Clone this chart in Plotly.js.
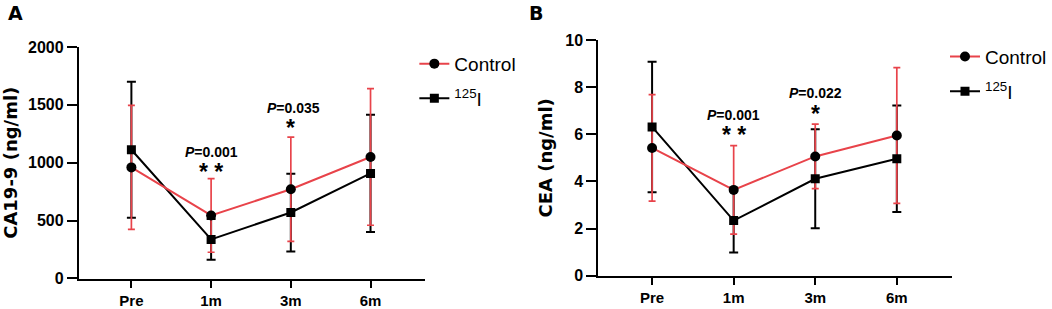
<!DOCTYPE html>
<html>
<head>
<meta charset="utf-8">
<script src="https://cdn.plot.ly/plotly-3.0.1.min.js"></script>
<style>html,body{margin:0;padding:0;background:#fff;}#chart{width:1052px;height:309px;}</style>
</head>
<body>
<div id="chart"></div>
<script>
// ---- data ----
const categories = ['Pre', '1m', '3m', '6m'];
const ca199Control = [960, 545, 771, 1050];
const ca199ControlSD = [535, 318, 451, 590];
const ca199I125 = [1112, 338, 570, 908];
const ca199I125SD = [588, 175, 336, 507];
const ceaControl = [5.42, 3.64, 5.06, 5.95];
const ceaControlSD = [2.26, 1.88, 1.37, 2.88];
const ceaI125 = [6.31, 2.34, 4.11, 4.96];
const ceaI125SD = [2.77, 1.36, 2.10, 2.26];
const seriesNames = ['Control', '<sup>125</sup>I'];
const pA = ['<i>P</i>=0.001', '<i>P</i>=0.035'];
const starsA = ['* *', '*'];
const pB = ['<i>P</i>=0.001', '<i>P</i>=0.022'];
const starsB = ['* *', '*'];
const yTicksA = [0, 500, 1000, 1500, 2000];
const yTicksB = [0, 2, 4, 6, 8, 10];

const RED = '#e8434a';
const BLACK = '#000000';

function errTrace(y, sd, color, thick, w, xa, ya) {
  return {
    type: 'scatter', mode: 'markers', x: categories, y: y,
    marker: {size: 1, color: 'rgba(0,0,0,0)'},
    error_y: {type: 'data', array: sd, visible: true, color: color, thickness: thick, width: w},
    showlegend: false, hoverinfo: 'skip', xaxis: xa, yaxis: ya
  };
}
function lineTrace(y, name, color, symbol, size, xa, ya, legend, show, rank) {
  return {
    type: 'scatter', mode: 'lines+markers', x: categories, y: y, name: name,
    line: {color: color, width: 2},
    marker: {symbol: symbol, size: size, color: BLACK},
    showlegend: show, legend: legend, legendrank: rank, legendgroup: legend + name,
    xaxis: xa, yaxis: ya
  };
}

const data = [
  errTrace(ca199I125, ca199I125SD, BLACK, 2, 4.5, 'x', 'y'),
  errTrace(ca199Control, ca199ControlSD, RED, 1.7, 3.5, 'x', 'y'),
  lineTrace(ca199I125, seriesNames[1], BLACK, 'square', 9, 'x', 'y', 'legend', true, 2),
  lineTrace(ca199Control, seriesNames[0], RED, 'circle', 10, 'x', 'y', 'legend', true, 1),
  errTrace(ceaI125, ceaI125SD, BLACK, 2, 4.5, 'x2', 'y2'),
  errTrace(ceaControl, ceaControlSD, RED, 1.7, 3.5, 'x2', 'y2'),
  lineTrace(ceaI125, seriesNames[1], BLACK, 'square', 9, 'x2', 'y2', 'legend2', true, 2),
  lineTrace(ceaControl, seriesNames[0], RED, 'circle', 10, 'x2', 'y2', 'legend2', true, 1)
];

const yTickFont = {family: 'Liberation Sans', size: 16, color: '#000', weight: 'bold'};
const xTickFont = {family: 'Liberation Sans', size: 15, color: '#000', weight: 'bold'};
const titleFont = {family: 'DejaVu Sans', size: 18, color: '#000', weight: 'bold'};
function xAxis(domain, anchor) {
  return {
    domain: domain, anchor: anchor, type: 'category', range: [-0.66, 3.68],
    showline: true, linewidth: 2, linecolor: '#000', ticks: 'outside', ticklen: 7, tickwidth: 2,
    tickcolor: '#000', showgrid: false, zeroline: false, tickfont: xTickFont, fixedrange: true
  };
}
function yAxis(domain, anchor, range, ticks, title) {
  return {
    domain: domain, anchor: anchor, range: range, tickvals: ticks,
    showline: true, linewidth: 2, linecolor: '#000', ticks: 'outside', ticklen: 10, tickwidth: 2,
    tickcolor: '#000', showgrid: false, zeroline: false, tickfont: yTickFont,
    title: {text: title, font: titleFont, standoff: 8}, fixedrange: true
  };
}

const annFontP = {family: 'Liberation Sans', size: 14, color: '#000', weight: 'bold'};
const annFontS = {family: 'Liberation Sans', size: 23, color: '#000', weight: 'bold'};
function ann(x, y, text, font, xa, ya) {
  return {x: x, y: y, xref: xa, yref: ya, text: text, showarrow: false, font: font, xanchor: 'center', yanchor: 'middle'};
}

const layout = {
  width: 1052, height: 309,
  margin: {l: 0, r: 0, t: 0, b: 0},
  paper_bgcolor: '#fff', plot_bgcolor: '#fff',
  showlegend: true,
  xaxis: xAxis([0.0751, 0.4049], 'y'),
  yaxis: yAxis([0.0987, 0.8479], 'x', [0, 2000], yTicksA, 'CA19-9 (ng/ml)'),
  xaxis2: xAxis([0.5703, 0.9078], 'y2'),
  yaxis2: yAxis([0.1078, 0.8706], 'x2', [0, 10], yTicksB, 'CEA (ng/ml)'),
  legend: {x: 0.395, y: 0.855, xanchor: 'left', yanchor: 'top', font: {family: 'Liberation Sans', size: 19, color: '#000'},
           bgcolor: 'rgba(0,0,0,0)', tracegroupgap: 7, traceorder: 'grouped'},
  legend2: {x: 0.901, y: 0.878, xanchor: 'left', yanchor: 'top', font: {family: 'Liberation Sans', size: 19, color: '#000'},
            bgcolor: 'rgba(0,0,0,0)', tracegroupgap: 7, traceorder: 'grouped'},
  annotations: [
    ann(1, 1092, pA[0], annFontP, 'x', 'y'),
    ann(1, 920, starsA[0], annFontS, 'x', 'y'),
    ann(2.03, 1473, pA[1], annFontP, 'x', 'y'),
    ann(2, 1300, starsA[1], annFontS, 'x', 'y'),
    ann(1, 6.82, pB[0], annFontP, 'x2', 'y2'),
    ann(1, 5.95, starsB[0], annFontS, 'x2', 'y2'),
    ann(2, 7.75, pB[1], annFontP, 'x2', 'y2'),
    ann(2, 6.88, starsB[1], annFontS, 'x2', 'y2'),
    {x: 16 / 1052, y: 1 - 13 / 309, xref: 'paper', yref: 'paper', text: 'A', showarrow: false,
     font: {family: 'DejaVu Sans', size: 19, color: '#000', weight: 'bold'}, xanchor: 'center', yanchor: 'middle'},
    {x: 538 / 1052, y: 1 - 13 / 309, xref: 'paper', yref: 'paper', text: 'B', showarrow: false,
     font: {family: 'DejaVu Sans', size: 19, color: '#000', weight: 'bold'}, xanchor: 'center', yanchor: 'middle'}
  ]
};

Plotly.newPlot('chart', data, layout, {displayModeBar: false, staticPlot: true});
</script>
</body>
</html>
